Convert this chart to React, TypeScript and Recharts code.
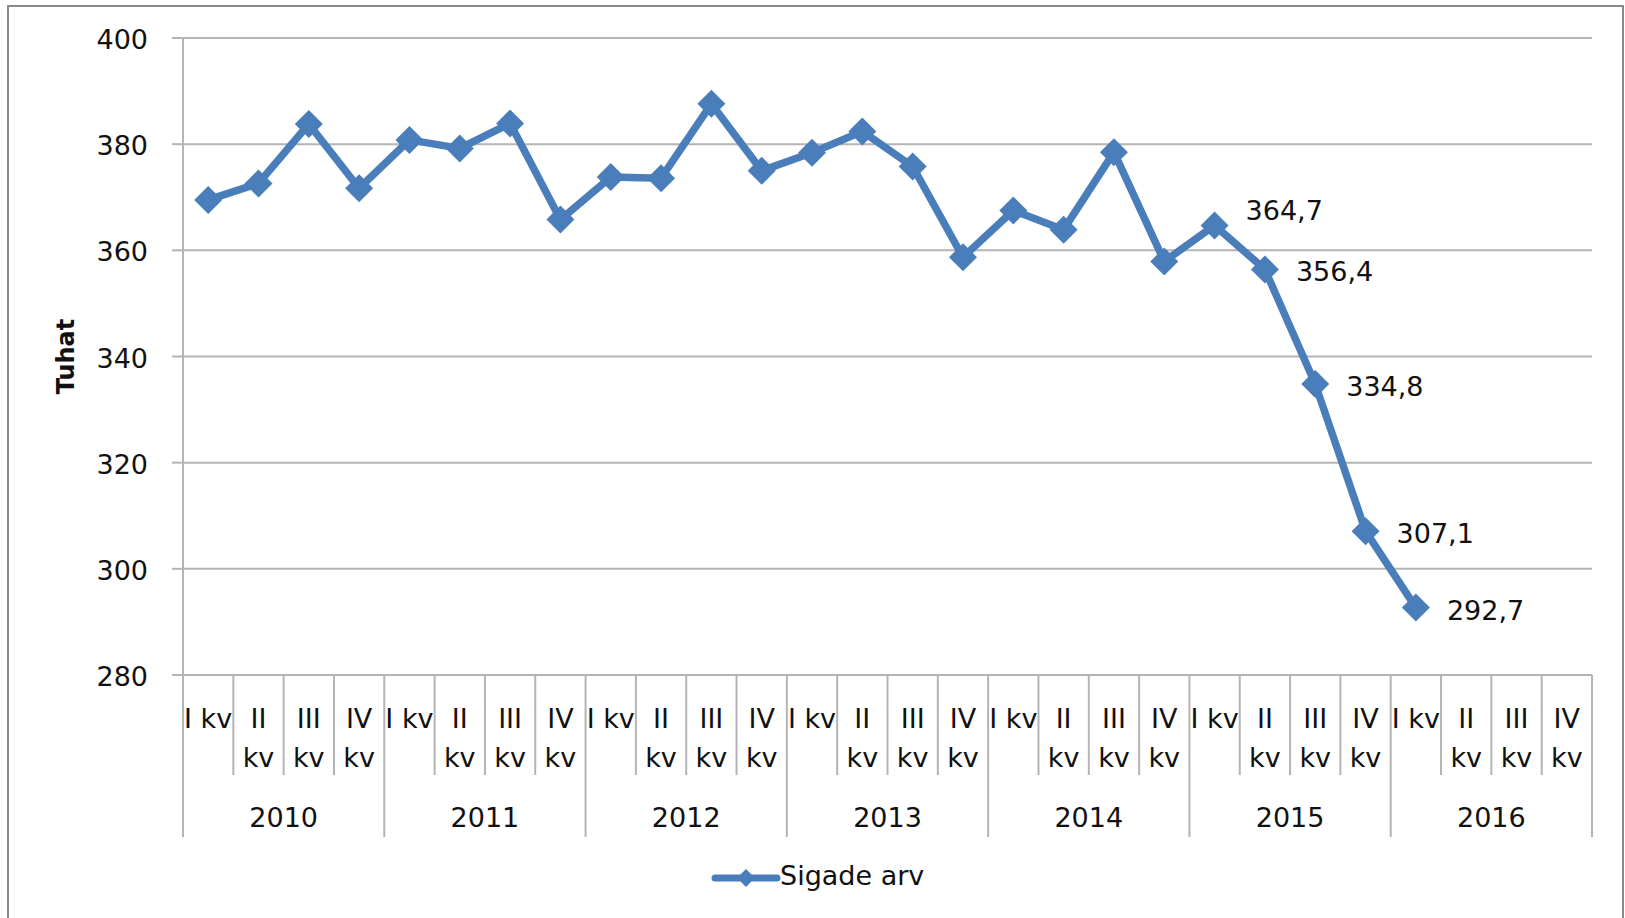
import React from 'react';
import { LineChart, Line, XAxis, YAxis, CartesianGrid, LabelList } from 'recharts';

const years = ['2010', '2011', '2012', '2013', '2014', '2015', '2016'];
const quarters = ['I kv', 'II kv', 'III kv', 'IV kv'];
// Sigade arv, tuhat (quarterly); last three quarters of 2016 not yet available
const pigCount: (number | null)[] = [
  369.5, 372.6, 383.8, 371.7,
  380.8, 379.2, 383.9, 365.8,
  373.8, 373.6, 387.6, 375.0,
  378.4, 382.4, 375.8, 358.7,
  367.5, 363.9, 378.5, 357.9,
  364.7, 356.4, 334.8, 307.1,
  292.7, null, null, null,
];
const yTicks = [280, 300, 320, 340, 360, 380, 400];
const seriesName = 'Sigade arv';
const axisTitle = 'Tuhat';
const labelledFrom = 20; // data labels shown from 2015 I kv on

const data = years.flatMap((year, yi) =>
  quarters.map((quarter, qi) => ({
    key: `${year}-${qi + 1}`,
    year,
    quarter,
    value: pigCount[yi * 4 + qi],
  }))
);

const WIDTH = 1625;
const HEIGHT = 918;
const PLOT_LEFT = 183;
const PLOT_RIGHT = 1592;
const PLOT_TOP = 38;
const PLOT_BOTTOM = 675;
const BAND = (PLOT_RIGHT - PLOT_LEFT) / data.length;

const BLUE = '#4a7ebb';
const GRID = '#b4b4b4';
const FONT = '"DejaVu Sans", sans-serif';

const fmt = (v: number) => v.toFixed(1).replace('.', ',');

const QuarterTick = (props: any) => {
  const { x, payload } = props;
  const i = payload.index;
  const d = data[i];
  const half = BAND / 2;
  const qi = i % 4;
  const lines = d.quarter === 'I kv' ? [d.quarter] : d.quarter.split(' ');
  return (
    <g>
      <line
        x1={x - half}
        x2={x - half}
        y1={PLOT_BOTTOM}
        y2={qi === 0 ? PLOT_BOTTOM + 162 : PLOT_BOTTOM + 100}
        stroke={GRID}
        strokeWidth={2}
      />
      {i === data.length - 1 && (
        <line x1={x + half} x2={x + half} y1={PLOT_BOTTOM} y2={PLOT_BOTTOM + 162} stroke={GRID} strokeWidth={2} />
      )}
      <text textAnchor="middle" fontSize={27} fontFamily={FONT} fill="#111">
        {lines.map((l: string, k: number) => (
          <tspan key={k} x={x} y={PLOT_BOTTOM + 53 + k * 39}>
            {l}
          </tspan>
        ))}
      </text>
      {qi === 1 && (
        <text x={x + half} y={PLOT_BOTTOM + 152} textAnchor="middle" fontSize={27} fontFamily={FONT} fill="#111">
          {d.year}
        </text>
      )}
    </g>
  );
};

const ValueTick = (props: any) => {
  const { x, y, payload } = props;
  return (
    <text x={x} y={y + 11} textAnchor="end" fontSize={27} fontFamily={FONT} fill="#111">
      {payload.value}
    </text>
  );
};

const Diamond = (props: any) => {
  const { cx, cy, index, value } = props;
  if (cx == null || cy == null || value == null) return <g key={index} />;
  const r = 14;
  return (
    <path
      key={index}
      d={`M${cx},${cy - r} L${cx + r},${cy} L${cx},${cy + r} L${cx - r},${cy} Z`}
      fill={BLUE}
    />
  );
};

const ValueLabel = (props: any) => {
  const { index, value } = props;
  const x = props.x ?? props.viewBox?.x;
  const y = props.y ?? props.viewBox?.y;
  if (value == null || index < labelledFrom || x == null || y == null) return null;
  const dy = index === labelledFrom ? -5 : 12;
  return (
    <text x={x + 31} y={y + dy} fontSize={27} fontFamily={FONT} fill="#111">
      {fmt(Number(value))}
    </text>
  );
};

const AxisTitle = (props: any) => {
  const vb = props.viewBox || {};
  const cx = 66;
  const cy = (vb.y ?? PLOT_TOP) + (vb.height ?? PLOT_BOTTOM - PLOT_TOP) / 2;
  return (
    <text
      x={cx}
      y={cy}
      transform={`rotate(-90 ${cx} ${cy})`}
      textAnchor="middle"
      dominantBaseline="central"
      fontSize={24}
      fontWeight="bold"
      fontFamily={FONT}
      fill="#111"
    >
      {axisTitle}
    </text>
  );
};

export default function App() {
  return (
    <div
      style={{
        position: 'absolute',
        left: 0,
        top: 0,
        width: WIDTH,
        height: HEIGHT,
        overflow: 'hidden',
        background: '#fff',
        fontFamily: FONT,
      }}
    >
      <div
        style={{
          position: 'absolute',
          left: 7,
          top: 5,
          width: 1613,
          height: 1000,
          border: '2px solid #8a8a8a',
        }}
      />
      <div style={{ position: 'absolute', left: 0, top: 0 }}>
        <LineChart
          width={WIDTH}
          height={HEIGHT}
          data={data}
          margin={{ top: PLOT_TOP, right: WIDTH - PLOT_RIGHT, left: 0, bottom: 0 }}
        >
          <CartesianGrid vertical={false} stroke={GRID} strokeWidth={2} />
          <XAxis
            dataKey="key"
            scale="band"
            interval={0}
            height={HEIGHT - PLOT_BOTTOM}
            axisLine={{ stroke: GRID, strokeWidth: 2 }}
            tickLine={false}
            tick={<QuarterTick />}
          />
          <YAxis
            width={PLOT_LEFT}
            domain={[280, 400]}
            ticks={yTicks}
            interval={0}
            allowDataOverflow
            axisLine={{ stroke: GRID, strokeWidth: 2 }}
            tickLine={{ stroke: GRID, strokeWidth: 2 }}
            tickSize={11}
            tickMargin={24}
            tick={<ValueTick />}
            label={<AxisTitle />}
          />
          <Line
            type="linear"
            dataKey="value"
            name={seriesName}
            stroke={BLUE}
            strokeWidth={7.5}
            strokeLinejoin="round"
            dot={<Diamond />}
            activeDot={false}
            isAnimationActive={false}
          >
            <LabelList dataKey="value" content={<ValueLabel />} />
          </Line>
        </LineChart>
      </div>
      <svg
        style={{ position: 'absolute', left: 0, top: 850 }}
        width={WIDTH}
        height={60}
      >
        <line x1={715} x2={777} y1={28} y2={28} stroke={BLUE} strokeWidth={7} strokeLinecap="round" />
        <path d="M746,19 L755,28 L746,37 L737,28 Z" fill={BLUE} />
        <text x={780} y={35} fontSize={27} fontFamily={FONT} fill="#111">
          {seriesName}
        </text>
      </svg>
    </div>
  );
}
